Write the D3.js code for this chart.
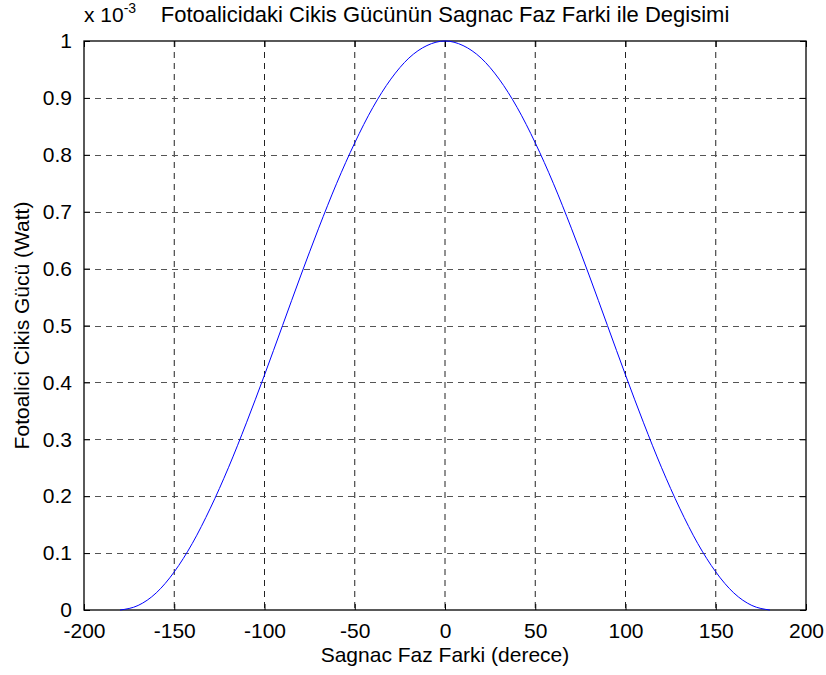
<!DOCTYPE html>
<html>
<head>
<meta charset="utf-8">
<script src="https://cdn.jsdelivr.net/npm/d3@7"></script>
<style>
  body { margin: 0; background: #fff; }
  text { font-family: "Liberation Sans", Arial, sans-serif; fill: #000; }
</style>
</head>
<body>
<div id="my_dataviz"></div>
<script>
// phase difference (deg) and output power (x 1e-3 W)
var phase = [-180, -170, -160, -150, -140, -130, -120, -110, -100, -90, -80, -70, -60, -50, -40, -30, -20, -10,
  0, 10, 20, 30, 40, 50, 60, 70, 80, 90, 100, 110, 120, 130, 140, 150, 160, 170, 180]
var power = [0, 0.008, 0.03, 0.067, 0.117, 0.179, 0.25, 0.329, 0.413, 0.5, 0.587, 0.671, 0.75, 0.821, 0.883, 0.933, 0.97, 0.992,
  1, 0.992, 0.97, 0.933, 0.883, 0.821, 0.75, 0.671, 0.587, 0.5, 0.413, 0.329, 0.25, 0.179, 0.117, 0.067, 0.03, 0.008, 0]
var xTicks = [-200, -150, -100, -50, 0, 50, 100, 150, 200]
var yTicks = [0, 0.1, 0.2, 0.3, 0.4, 0.5, 0.6, 0.7, 0.8, 0.9, 1]

var titleText = "Fotoalicidaki Cikis Gücünün Sagnac Faz Farki ile Degisimi"
var xLabel = "Sagnac Faz Farki (derece)"
var yLabel = "Fotoalici Cikis Gücü (Watt)"

var fs = "21px"

var margin = { top: 41, right: 20, bottom: 65, left: 84 },
  width = 826 - margin.left - margin.right,
  height = 675 - margin.top - margin.bottom;

var svg = d3.select("#my_dataviz")
  .append("svg")
  .attr("width", 826)
  .attr("height", 675)
  .append("g")
  .attr("transform", "translate(" + margin.left + "," + margin.top + ")");

var x = d3.scaleLinear().domain([-200, 200]).range([0, width]);
var y = d3.scaleLinear().domain([0, 1]).range([height, 0]);

// grid
svg.append("g")
  .selectAll("line")
  .data(xTicks.slice(1, -1))
  .enter()
  .append("line")
  .attr("x1", function(d) { return x(d) }).attr("x2", function(d) { return x(d) })
  .attr("y1", 0).attr("y2", height)
  .attr("stroke", "#222").attr("stroke-width", 1)
  .attr("stroke-dasharray", "6,5");
svg.append("g")
  .selectAll("line")
  .data(yTicks.slice(1, -1))
  .enter()
  .append("line")
  .attr("x1", 0).attr("x2", width)
  .attr("y1", function(d) { return Math.round(y(d)) + 0.5 })
  .attr("y2", function(d) { return Math.round(y(d)) + 0.5 })
  .attr("stroke", "#555").attr("stroke-width", 1)
  .attr("stroke-dasharray", "6,5");

// axes, ticks inward like matlab
var fmt = function(d) { return String(d) }  // plain hyphen, not unicode minus
var styleAxis = function(g) {
  g.select(".domain").remove();
  g.selectAll(".tick line").attr("stroke", "#000");
  g.selectAll(".tick text").style("font-size", fs).style("font-family", "Liberation Sans, Arial, sans-serif");
}
svg.append("g")
  .attr("transform", "translate(0," + height + ")")
  .call(d3.axisBottom(x).tickValues(xTicks).tickSizeInner(-6).tickSizeOuter(0).tickPadding(13).tickFormat(fmt))
  .call(styleAxis);
svg.append("g")
  .call(d3.axisTop(x).tickValues(xTicks).tickSizeInner(-6).tickSizeOuter(0).tickFormat(""))
  .call(styleAxis);
svg.append("g")
  .call(d3.axisLeft(y).tickValues(yTicks).tickSizeInner(-6).tickSizeOuter(0).tickPadding(12).tickFormat(fmt))
  .call(styleAxis);
svg.append("g")
  .attr("transform", "translate(" + width + ",0)")
  .call(d3.axisRight(y).tickValues(yTicks).tickSizeInner(-6).tickSizeOuter(0).tickFormat(""))
  .call(styleAxis);

// box
svg.append("rect")
  .attr("x", 0).attr("y", 0)
  .attr("width", width).attr("height", height)
  .attr("fill", "none").attr("stroke", "#000").attr("stroke-width", 1.3);

// curve
svg.append("path")
  .datum(phase.map(function(p, i) { return { p: p, v: power[i] } }))
  .attr("fill", "none")
  .attr("stroke", "#0000ff")
  .attr("stroke-width", 1)
  .attr("d", d3.line()
    .x(function(d) { return x(d.p) })
    .y(function(d) { return y(d.v) })
    .curve(d3.curveMonotoneX));

// labels
svg.append("text")
  .attr("text-anchor", "middle")
  .attr("x", width / 2)
  .attr("y", -19)
  .style("font-size", "22px")
  .text(titleText);

var ex = svg.append("text")
  .attr("x", 0).attr("y", -19)
  .style("font-size", fs);
ex.append("tspan").text("x 10");
ex.append("tspan").attr("dy", -9).style("font-size", "14px").text("-3");

svg.append("text")
  .attr("text-anchor", "middle")
  .attr("x", width / 2)
  .attr("y", height + 52)
  .style("font-size", fs)
  .text(xLabel);

svg.append("text")
  .attr("text-anchor", "middle")
  .attr("transform", "translate(-55," + height / 2 + ")rotate(-90)")
  .style("font-size", fs)
  .text(yLabel);
</script>
</body>
</html>
